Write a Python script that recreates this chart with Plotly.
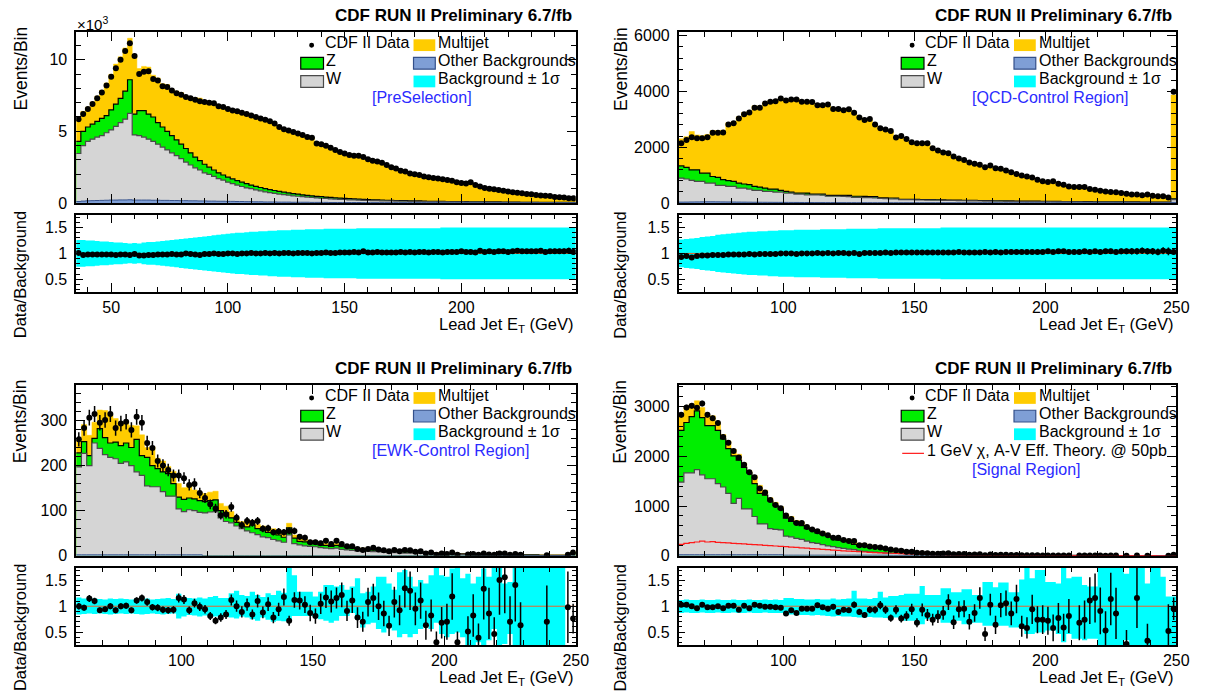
import numpy as np
import plotly.graph_objects as go

# ======================= DATA =======================
# Top-left  [PreSelection]   : 2 GeV bins, 35-249 GeV, events in units of 10^3
tl_data = [5.85, 6.20, 6.55, 6.90, 7.30, 7.70, 8.20, 8.80, 9.40, 10.00, 10.60, 11.15, 10.25,
           9.00, 9.15, 9.20, 8.65, 8.55, 8.15, 8.10, 7.85, 7.65, 7.55, 7.40, 7.30, 7.20, 7.10, 7.05,
           7.00, 6.95, 6.75, 6.70, 6.55, 6.45, 6.40, 6.30, 6.20, 6.10, 6.00, 5.90, 5.80, 5.70, 5.55,
           5.30, 5.15, 5.05, 4.95, 4.85, 4.75, 4.60, 4.55, 4.15, 4.10, 4.00, 3.85, 3.70, 3.55, 3.45,
           3.35, 3.30, 3.30, 3.20, 3.05, 2.95, 2.90, 2.80, 2.65, 2.50, 2.40, 2.25, 2.20, 2.05, 2.00,
           1.95, 1.85, 1.80, 1.75, 1.70, 1.65, 1.60, 1.55, 1.45, 1.40, 1.35, 1.45, 1.25, 1.15, 1.05,
           1.00, 0.95, 0.90, 0.85, 0.80, 0.75, 0.72, 0.68, 0.62, 0.60, 0.55, 0.52, 0.50, 0.48, 0.42, 0.40, 0.38, 0.33, 0.32]
tl_ratio = [1.01, 0.97, 0.98, 0.98, 0.98, 0.98, 0.98, 0.98, 0.97, 0.98, 0.98, 0.97, 0.99,
            0.96, 0.96, 0.97, 0.97, 0.98, 0.98, 0.98, 0.99, 0.98, 0.98, 1.00, 0.99, 0.98, 0.97, 0.99,
            0.99, 1.00, 0.99, 0.99, 1.00, 1.00, 0.99, 1.00, 1.00, 1.01, 1.00, 1.00, 1.01, 1.00, 1.01,
            1.00, 1.01, 1.01, 1.00, 1.01, 1.01, 1.01, 1.00, 1.01, 1.01, 1.02, 1.01, 1.01, 1.02, 1.02,
            1.02, 1.03, 1.02, 1.04, 1.02, 1.02, 1.03, 1.02, 1.02, 1.02, 1.02, 1.03, 1.02, 1.03, 1.02,
            1.03, 1.03, 1.02, 1.03, 1.03, 1.02, 1.03, 1.03, 1.03, 1.04, 1.03, 1.03, 1.02, 1.05, 1.03,
            1.04, 1.03, 1.04, 1.04, 1.03, 1.04, 1.05, 1.04, 1.04, 1.04, 1.04, 1.05, 1.03, 1.04, 1.04, 1.04, 1.04, 1.05, 1.03]
tl_w_z = [4.30, 5.00, 5.30, 5.50, 5.70, 5.90, 6.10, 6.50, 6.90, 7.30, 7.80, 8.60, 6.20,
          6.45, 6.45, 6.20, 6.00, 5.60, 5.30, 5.00, 4.70, 4.40, 4.10, 3.80, 3.50, 3.20, 2.95, 2.70,
          2.50, 2.30, 2.10, 1.95, 1.80, 1.68, 1.56, 1.45, 1.35, 1.25, 1.16, 1.08, 1.00, 0.93, 0.87,
          0.81, 0.75, 0.70, 0.65, 0.61, 0.57, 0.53, 0.50, 0.46, 0.44, 0.41, 0.39, 0.36, 0.34, 0.32,
          0.30, 0.28, 0.27, 0.25, 0.24, 0.22, 0.21, 0.20, 0.19, 0.18, 0.17, 0.16, 0.16, 0.15, 0.14,
          0.14, 0.13, 0.12, 0.12, 0.11, 0.11, 0.10, 0.10, 0.09, 0.09, 0.09, 0.08, 0.08, 0.08, 0.07,
          0.07, 0.07, 0.07, 0.06, 0.06, 0.06, 0.06, 0.05, 0.05, 0.05, 0.05, 0.05, 0.05, 0.04, 0.04, 0.04, 0.04, 0.04, 0.04]
tl_w = [3.45, 4.00, 4.30, 4.45, 4.60, 4.70, 4.90, 5.10, 5.35, 5.60, 5.85, 6.25, 4.75,
        4.70, 4.60, 4.45, 4.30, 4.10, 3.90, 3.70, 3.50, 3.30, 3.10, 2.85, 2.65, 2.45, 2.30, 2.10,
        2.00, 1.85, 1.70, 1.60, 1.45, 1.35, 1.25, 1.15, 1.05, 1.00, 0.92, 0.85, 0.78, 0.72, 0.67,
        0.62, 0.58, 0.54, 0.50, 0.47, 0.44, 0.41, 0.38, 0.35, 0.33, 0.31, 0.29, 0.27, 0.25, 0.24,
        0.22, 0.21, 0.20, 0.18, 0.17, 0.16, 0.16, 0.15, 0.14, 0.14, 0.13, 0.12, 0.12, 0.11, 0.11,
        0.10, 0.10, 0.09, 0.09, 0.08, 0.08, 0.08, 0.07, 0.07, 0.07, 0.06, 0.06, 0.06, 0.06, 0.05,
        0.05, 0.05, 0.05, 0.05, 0.05, 0.04, 0.04, 0.04, 0.04, 0.04, 0.04, 0.03, 0.03, 0.03, 0.03, 0.03, 0.03, 0.03, 0.03]
tl_other = [0.10, 0.13, 0.15, 0.16, 0.17, 0.18, 0.19, 0.20, 0.20, 0.21, 0.21, 0.22, 0.20,
            0.20, 0.20, 0.20, 0.19, 0.19, 0.18, 0.18, 0.17, 0.17, 0.16, 0.16, 0.15, 0.15, 0.14, 0.14,
            0.13, 0.13, 0.12, 0.12, 0.11, 0.11, 0.10, 0.10, 0.09, 0.09, 0.08, 0.08, 0.07, 0.07, 0.07,
            0.06, 0.06, 0.06, 0.05, 0.05, 0.05, 0.05, 0.04, 0.04, 0.04, 0.04, 0.03, 0.03, 0.03, 0.03,
            0.03, 0.03, 0.03, 0.02, 0.02, 0.02, 0.02, 0.02, 0.02, 0.02, 0.02, 0.02, 0.02, 0.02, 0.02,
            0.02, 0.02, 0.02, 0.02, 0.02, 0.01, 0.01, 0.01, 0.01, 0.01, 0.01, 0.01, 0.01, 0.01, 0.01,
            0.01, 0.01, 0.01, 0.01, 0.01, 0.01, 0.01, 0.01, 0.01, 0.01, 0.01, 0.01, 0.01, 0.01, 0.01, 0.01, 0.01, 0.01, 0.01]
tl_sigma = [0.26, 0.26, 0.25, 0.25, 0.24, 0.23, 0.23, 0.22, 0.21, 0.21, 0.20, 0.19, 0.20,
            0.19, 0.21, 0.22, 0.22, 0.23, 0.24, 0.25, 0.26, 0.27, 0.28, 0.29, 0.30, 0.31, 0.32, 0.33,
            0.34, 0.35, 0.36, 0.37, 0.38, 0.39, 0.40, 0.40, 0.41, 0.42, 0.42, 0.43, 0.43, 0.44, 0.44,
            0.45, 0.45, 0.45, 0.46, 0.46, 0.46, 0.47, 0.47, 0.47, 0.47, 0.48, 0.48, 0.48, 0.48, 0.48,
            0.48, 0.48, 0.49, 0.49, 0.49, 0.49, 0.49, 0.49, 0.49, 0.49, 0.49, 0.49, 0.49, 0.49, 0.49,
            0.49, 0.49, 0.49, 0.49, 0.49, 0.50, 0.50, 0.50, 0.50, 0.50, 0.50, 0.50, 0.50, 0.50, 0.50,
            0.50, 0.50, 0.50, 0.50, 0.50, 0.50, 0.50, 0.50, 0.50, 0.50, 0.50, 0.50, 0.50, 0.50, 0.50, 0.50, 0.50, 0.50, 0.50]

# Top-right [QCD-Control Region] : 2 GeV bins, 60-250 GeV
tr_data = [2140, 2260, 2360, 2320, 2320, 2360, 2520, 2520, 2530, 2820, 2860, 3030, 3180, 3250, 3415, 3420, 3570, 3630, 3650, 3750,
           3680, 3710, 3710, 3630, 3630, 3620, 3510, 3510, 3530, 3370, 3370, 3330, 3360, 3240, 3070, 2975, 3010, 2820, 2680, 2640,
           2580, 2345, 2400, 2300, 2180, 2140, 2140, 2140, 1960, 1880, 1810, 1785, 1665, 1600, 1545, 1450, 1405, 1370, 1285, 1345,
           1250, 1225, 1165, 1105, 1035, 990, 950, 915, 835, 775, 750, 775, 690, 655, 595, 570, 570, 570, 500, 475,
           440, 415, 390, 380, 355, 335, 300, 300, 275, 300, 260, 240, 240, 200, 3990]
tr_ratio = [0.93, 0.95, 0.92, 0.95, 0.96, 0.96, 0.97, 0.97, 0.97, 0.98, 0.98, 0.98, 0.98, 0.99, 0.98, 0.99, 0.99, 0.99, 0.99, 1.00,
            1.00, 1.00, 0.99, 1.00, 1.00, 1.00, 1.01, 1.00, 1.01, 1.00, 1.01, 1.01, 1.00, 1.01, 0.99, 1.01, 1.01, 1.01, 1.01, 1.02,
            1.01, 1.02, 1.02, 1.02, 1.02, 1.02, 1.02, 1.02, 1.02, 1.02, 1.02, 1.02, 1.02, 1.03, 1.02, 1.02, 1.02, 1.02, 1.03, 1.02,
            1.03, 1.02, 1.03, 1.03, 1.03, 1.03, 1.03, 1.03, 1.03, 1.03, 1.04, 1.03, 1.04, 1.04, 1.03, 1.03, 1.03, 1.04, 1.03, 1.04,
            1.03, 1.04, 1.04, 1.03, 1.04, 1.04, 1.04, 1.04, 1.05, 1.04, 1.04, 1.03, 1.05, 1.04, 1.03]
tr_w_z = [1330, 1275, 1190, 1190, 1070, 1070, 950, 915, 835, 800, 775, 715, 680, 655, 595, 570, 535, 500, 500, 450,
          415, 390, 355, 355, 355, 320, 320, 320, 275, 275, 275, 275, 270, 240, 240, 235, 230, 225, 180, 180,
          178, 175, 130, 130, 128, 126, 125, 122, 120, 115, 110, 107, 104, 101, 97, 94, 91, 88, 85, 83,
          80, 78, 76, 74, 71, 69, 67, 65, 63, 61, 59, 57, 55, 53, 51, 49, 48, 46, 45, 44,
          43, 42, 41, 40, 39, 38, 37, 36, 35, 34, 33, 32, 31, 30, 150]
tr_w = [890, 860, 810, 775, 775, 715, 715, 630, 630, 595, 595, 535, 535, 500, 450, 450, 415, 415, 390, 390,
        355, 355, 320, 320, 290, 290, 290, 280, 240, 240, 240, 235, 230, 200, 200, 195, 190, 180, 160, 155,
        150, 145, 120, 118, 115, 110, 107, 105, 100, 98, 95, 90, 88, 85, 80, 78, 75, 70, 68, 66,
        64, 62, 60, 58, 55, 53, 51, 49, 48, 46, 45, 43, 42, 40, 39, 37, 36, 35, 34, 33,
        32, 31, 30, 29, 28, 27, 26, 25, 24, 23, 22, 21, 20, 19, 120]
tr_other = [30, 32, 35, 38, 40, 42, 42, 40, 38, 36, 34, 32, 30, 28, 26, 25, 24, 23, 22, 21,
            20, 19, 18, 17, 16, 15, 14, 14, 13, 13, 12, 12, 11, 11, 10, 10, 10, 9, 9, 9,
            8, 8, 8, 8, 8, 8, 8, 8, 8, 8, 7, 7, 7, 7, 7, 7, 7, 7, 7, 7,
            6, 6, 6, 6, 6, 6, 6, 6, 6, 6, 5, 5, 5, 5, 5, 5, 5, 5, 5, 5,
            4, 4, 4, 4, 4, 4, 4, 4, 4, 4, 4, 4, 4, 4, 20]
tr_sigma = [0.27, 0.28, 0.29, 0.30, 0.32, 0.33, 0.34, 0.36, 0.37, 0.38, 0.39, 0.40, 0.41, 0.42, 0.42, 0.43, 0.43, 0.44, 0.44, 0.45,
            0.45, 0.45, 0.46, 0.46, 0.46, 0.46, 0.46, 0.47, 0.47, 0.47, 0.47, 0.47, 0.48, 0.48, 0.48, 0.48, 0.48, 0.48, 0.49, 0.49,
            0.49, 0.49, 0.49, 0.49, 0.49, 0.49, 0.49, 0.49, 0.49, 0.49, 0.50, 0.50, 0.50, 0.50, 0.50, 0.50, 0.50, 0.50, 0.50, 0.50,
            0.50, 0.50, 0.50, 0.50, 0.50, 0.50, 0.50, 0.50, 0.50, 0.50, 0.50, 0.50, 0.50, 0.50, 0.50, 0.50, 0.50, 0.50, 0.50, 0.50,
            0.50, 0.50, 0.50, 0.50, 0.50, 0.50, 0.50, 0.50, 0.50, 0.50, 0.50, 0.50, 0.50, 0.50, 0.50]

# Bottom-left [EWK-Control Region] : 2 GeV bins, 60-250 GeV
bl_data = [258, 283, 306, 314, 295, 301, 314, 283, 293, 297, 279, 308, 295, 250, 239, 210, 200, 190, 178, 178,
           172, 157, 159, 139, 128, 114, 105, 90, 92, 108, 84, 68, 77, 73, 77, 60, 61, 52, 54, 52,
           55, 55, 42, 40, 30, 30, 28, 33, 26, 33, 26, 21, 21, 15, 13, 15, 18, 14, 12, 10,
           13, 10, 13, 12, 9, 10, 5, 7, 2, 5, 4, 7, 2, 0, 3, 4, 2, 5, 3, 2,
           5, 5, 2, 4, 2, 0, 0, 0, 0, 1, 0, 0, 0, 2, 7]
bl_total = [254, 291, 267, 296, 323, 322, 313, 304, 292, 297, 289, 288, 268, 240, 242, 216, 210, 198, 187, 160,
            151, 158, 146, 140, 138, 141, 143, 116, 110, 98, 84, 76, 74, 78, 70, 66, 60, 60, 54, 48,
            72, 46, 38, 37, 33, 32, 28, 27, 25, 27, 23, 22, 20, 17, 17, 15, 15, 14, 13, 12,
            12, 11, 10, 9, 9, 9, 8, 8, 7, 7, 6, 6, 6, 5, 5, 5, 4, 4, 4, 3,
            3, 3, 3, 3, 3, 2, 2, 2, 2, 2, 2, 2, 2, 2, 9]
bl_w_z = [228, 253, 222, 260, 282, 262, 250, 252, 244, 250, 240, 258, 222, 218, 200, 193, 186, 182, 160, 130,
          125, 128, 126, 122, 120, 122, 124, 100, 95, 84, 74, 66, 64, 68, 60, 57, 52, 51, 46, 41,
          62, 39, 32, 31, 28, 27, 24, 23, 21, 23, 20, 19, 17, 15, 15, 13, 13, 12, 11, 10,
          10, 9, 9, 8, 8, 8, 7, 7, 6, 6, 5, 5, 5, 4, 4, 4, 3, 3, 3, 3,
          2, 2, 2, 2, 2, 2, 2, 2, 1, 1, 1, 1, 1, 1, 7]
bl_w = [197, 227, 200, 250, 238, 224, 218, 215, 205, 208, 200, 186, 178, 155, 153, 153, 142, 132, 132, 104,
        98, 102, 100, 96, 95, 97, 98, 84, 76, 73, 66, 60, 55, 51, 47, 42, 40, 36, 33, 30,
        46, 27, 24, 22, 21, 20, 18, 17, 16, 17, 14, 13, 12, 11, 10, 10, 9, 9, 8, 7,
        7, 7, 6, 6, 6, 5, 5, 5, 4, 4, 4, 4, 3, 3, 3, 3, 2, 2, 2, 2,
        2, 2, 1, 1, 1, 1, 1, 1, 1, 1, 1, 1, 1, 1, 4]
bl_other = [2, 2, 2, 2, 2, 2, 2, 2, 2, 2, 2, 2, 2, 2, 2, 2, 2, 2, 2, 2,
            2, 2, 2, 2, 0, 0, 0, 0, 0, 0, 0, 0, 0, 0, 0, 0, 0, 0, 0, 0,
            0, 0, 0, 0, 0, 0, 0, 0, 0, 0, 0, 0, 0, 0, 0, 0, 0, 0, 0, 0,
            0, 0, 0, 0, 0, 0, 0, 0, 0, 0, 0, 0, 0, 0, 0, 0, 0, 0, 0, 0,
            0, 0, 0, 0, 0, 0, 0, 0, 0, 0, 0, 0, 0, 0, 0]
bl_ratio = [1.00, 0.97, 1.15, 1.10, 0.92, 0.94, 1.00, 0.92, 1.00, 1.01, 0.92, 1.11, 1.16, 1.08, 0.98, 0.97, 0.93, 0.92, 0.93, 1.16,
            1.13, 0.92, 1.06, 0.99, 0.94, 0.81, 0.72, 0.78, 0.84, 1.12, 1.00, 0.89, 1.03, 0.84, 1.10, 0.88, 1.04, 0.78, 0.94, 1.18,
            0.72, 1.12, 1.11, 1.03, 0.87, 0.81, 1.05, 1.17, 1.09, 1.16, 1.22, 0.91, 1.11, 0.78, 0.70, 1.08, 1.16, 1.00, 0.86, 0.62,
            1.08, 0.92, 1.35, 1.30, 0.95, 1.11, 0.63, 0.82, 0.30, 0.68, 0.70, 1.19, 0.30, 0.00, 0.51, 0.82, 0.39, 1.34, 0.86, 0.46,
            1.51, 1.56, 0.70, 1.41, 0.63, 0.00, 0.00, 0.00, 0.00, 0.70, 0.00, 0.00, 0.00, 0.98, 0.76]
bl_band_hi = [1.17, 1.15, 1.14, 1.15, 1.14, 1.13, 1.15, 1.14, 1.15, 1.14, 1.13, 1.15, 1.14, 1.15, 1.13, 1.14, 1.15, 1.16, 1.14,
              1.24, 1.18, 1.16, 1.15, 1.17, 1.15, 1.18, 1.20, 1.16, 1.16, 1.25, 1.30, 1.22, 1.20, 1.28, 1.22, 1.18, 1.25, 1.22, 1.30, 1.26,
              1.80,
              1.60, 1.28, 1.28, 1.28, 1.19, 1.28, 1.41, 1.41, 1.38, 1.41,
              1.32, 1.38, 1.54, 1.25, 1.28, 1.38, 1.57, 1.57, 1.44, 1.32,
              1.66, 1.70, 1.57, 1.38, 1.51, 1.44, 1.60, 1.76, 1.60, 1.57,
              1.73, 1.76, 1.54, 1.63, 1.44, 1.57, 1.73, 1.57, 1.80, 1.80,
              1.44, 1.47, 1.80, 1.80, 1.80, 1.80, 1.80, 1.80, 1.80, 1.80,
              1.80, 1.80, 1.00, 1.00]
bl_band_lo = [0.84, 0.85, 0.86, 0.85, 0.86, 0.85, 0.84, 0.85, 0.86, 0.85, 0.86, 0.85, 0.84, 0.85, 0.86, 0.85, 0.84, 0.85, 0.86,
              0.76, 0.80, 0.83, 0.82, 0.80, 0.82, 0.78, 0.80, 0.81, 0.79, 0.78, 0.76, 0.80, 0.78, 0.75, 0.72, 0.78, 0.74, 0.70, 0.72, 0.71,
              0.71,
              0.81, 0.81, 0.81, 0.81, 0.78, 0.75, 0.72, 0.68, 0.72, 0.81,
              0.81, 0.87, 0.75, 0.59, 0.65, 0.68, 0.56, 0.49, 0.59, 0.53,
              0.40, 0.46, 0.40, 0.46, 0.56, 0.65, 0.56, 0.68, 0.46, 0.40,
              0.46, 0.49, 0.40, 0.20, 0.20, 0.30, 0.20, 0.34, 0.56, 0.20,
              0.27, 0.46, 0.20, 0.20, 0.20, 0.20, 0.20, 0.20, 0.20, 0.20,
              0.20, 0.20, 1.00, 1.00]

# Bottom-right [Signal Region] : 2 GeV bins, 60-250 GeV
br_data = [2834, 2984, 3018, 2978, 3063, 2834, 2767, 2668, 2391, 2273, 2109, 1976, 1832, 1680, 1581, 1352, 1273, 1120, 1022, 956,
           810, 739, 660, 660, 581, 528, 494, 449, 415, 364, 364, 316, 296, 296, 211, 211, 186, 178, 166, 146,
           126, 113, 99, 79, 79, 62, 58,
           51, 42, 42, 43, 49, 28, 36, 33, 22, 26, 31, 12, 24, 13, 19, 19, 14, 17, 9, 8,
           11, 8, 7, 7, 5, 7, 5, 6, 0, 4, 4, 6, 6, 4, 2, 5, 3, 0, 1, 0, 4, 0, 1, 0, 0, 0, 1, 19]
br_total = [2866, 3012, 3051, 3117, 2984, 2814, 2814, 2682, 2439, 2306, 2142, 2043, 1866, 1713, 1615, 1417, 1318, 1166, 1075, 988,
            844, 791, 711, 680, 593, 547, 514, 480, 429, 383, 364, 330, 330, 296, 245, 240, 217, 192, 185, 152,
            145, 126, 115, 99, 90, 79, 72,
            62, 57, 53, 49, 45, 41, 38, 35, 32, 30, 27, 25, 23, 21, 19, 18, 16, 15, 14, 13,
            12, 11, 10, 9.5, 9, 8.5, 8, 7.5, 7, 6.5, 6, 5.6, 5.2, 4.9, 4.6, 4.3, 4, 3.8, 3.6, 3.4,
            3.2, 3, 2.8, 2.6, 2.5, 2.4, 2.3, 20]
br_w_z = [2523, 2681, 2800, 2913, 2780, 2617, 2617, 2523, 2352, 2154, 2010, 1925, 1779, 1668, 1450, 1253, 1219, 1101, 1008, 937,
          759, 692, 646, 607, 547, 514, 462, 429, 395, 364, 316, 296, 296, 231, 198, 198, 178, 166, 160, 132,
          125, 107, 100, 87, 82, 67, 62,
          55, 50, 47, 43, 40, 36, 33, 31, 28, 26, 24, 22, 20, 18, 17, 16, 14, 13, 12, 11,
          10.5, 9.7, 8.8, 8.4, 7.9, 7.5, 7, 6.6, 6.2, 5.7, 5.3, 4.9, 4.6, 4.3, 4, 3.8, 3.5, 3.3, 3.2, 3,
          2.8, 2.6, 2.5, 2.3, 2.2, 2.1, 2, 17]
br_w = [1482, 1668, 1668, 1733, 1628, 1549, 1549, 1450, 1383, 1253, 1055, 1154, 943, 943, 790, 640, 640, 547, 530, 520,
        395, 380, 350, 330, 296, 264, 250, 225, 198, 185, 165, 150, 132, 125, 99, 90, 79, 72, 66, 60,
        55, 50, 46, 42, 38, 35, 32,
        29, 27, 25, 23, 21, 19, 18, 16, 15, 14, 13, 12, 11, 10, 9, 8.5, 7.7, 7.2, 6.7, 6.2,
        5.8, 5.3, 4.8, 4.6, 4.3, 4.1, 3.8, 3.6, 3.4, 3.1, 2.9, 2.7, 2.5, 2.4, 2.2, 2.1, 1.9, 1.8, 1.7, 1.6,
        1.5, 1.4, 1.3, 1.2, 1.2, 1.1, 1.1, 9]
br_other = [20, 20, 20, 20, 20, 20, 20, 20, 20, 20, 20, 20, 20, 20, 20, 20, 20, 20, 20, 20,
            12, 12, 12, 12, 12, 12, 12, 12, 12, 12, 12, 12, 12, 12, 12, 12, 12, 12, 12, 12,
            8, 8, 8, 8, 8, 8, 8, 6, 6, 6, 6, 6, 5, 5, 5, 5, 5, 4, 4, 4,
            4, 4, 3, 3, 3, 3, 3, 3, 3, 2, 2, 2, 2, 2, 2, 2, 2, 2, 2, 2,
            1, 1, 1, 1, 1, 1, 1, 1, 1, 1, 1, 1, 1, 1, 2]
br_signal = [231, 251, 264, 277, 296, 277, 284, 270, 264, 258, 251, 245, 238, 231, 224, 217, 210, 203, 196, 189,
             182, 175, 168, 160, 152, 145, 138, 130, 122, 115, 108, 100, 94, 88, 82, 76, 70, 65, 60, 55,
             50, 46, 42, 38, 35, 32, 29,
             26, 24, 22, 20, 18, 16, 14, 13, 12, 11, 10, 9, 8, 7.5, 7, 6.5, 6, 5.5, 5, 4.6,
             4.2, 3.9, 3.6, 3.3, 3, 2.8, 2.6, 2.4, 2.2, 2, 1.9, 1.8, 1.6, 1.5, 1.4, 1.3, 1.2, 1.1, 1, 1,
             0.9, 0.9, 0.8, 0.8, 0.7, 0.7, 0.6, 3]
br_ratio = [1.03, 1.03, 1.00, 0.96, 1.03, 0.98, 0.98, 1.00, 0.96, 1.01, 1.01, 0.93, 1.01, 0.96, 1.03, 1.01, 0.99, 0.99, 0.98, 0.97,
            0.86, 0.92, 0.87, 0.95, 0.95, 0.95, 1.02, 0.98, 0.95, 0.99, 0.89, 0.93, 0.92, 1.03, 0.89, 0.83, 0.93, 0.93, 1.02, 0.93,
            0.77, 0.93, 0.76, 0.81, 0.94, 0.68, 0.93, 0.83, 0.74, 0.80, 0.87, 1.08, 0.69, 0.94, 0.95, 0.70, 0.87, 1.16, 0.46, 1.03,
            0.64, 1.02, 1.06, 0.86, 1.14, 0.61, 0.58, 0.94, 0.74, 0.74, 0.72, 0.58, 0.77, 0.59, 0.81, 0.00, 0.68, 0.74, 1.11, 1.16,
            0.91, 0.53, 1.14, 0.86, 0.00, 0.27, 0.00, 1.16, 0.00, 0.33, 0.00, 0.00, 0.00, 0.52, 0.95]
br_band_hi = [1.12, 1.13, 1.12, 1.12, 1.13, 1.12, 1.12, 1.13, 1.12, 1.12, 1.13, 1.12, 1.12, 1.13, 1.12, 1.12, 1.13, 1.12, 1.13, 1.12,
              1.16, 1.16, 1.14, 1.14, 1.13, 1.13, 1.14, 1.13, 1.13, 1.15, 1.13, 1.14, 1.15, 1.30, 1.15, 1.15, 1.14, 1.16, 1.28, 1.17,
              1.20, 1.20, 1.22, 1.24, 1.24, 1.24, 1.39, 1.22, 1.22, 1.22,
              1.35, 1.35, 1.27, 1.27, 1.33, 1.33, 1.22, 1.22, 1.47, 1.47,
              1.37, 1.46, 1.46, 1.27, 1.27, 1.52, 1.80, 1.54, 1.70, 1.70,
              1.47, 1.47, 1.44, 1.80, 1.54, 1.57, 1.57, 1.41, 1.38, 1.38,
              1.80, 1.80, 1.80, 1.80, 1.80, 1.63, 1.80, 1.80, 1.80, 1.44,
              1.80, 1.80, 1.57, 1.19, 1.19]
br_band_lo = [0.87, 0.88, 0.87, 0.87, 0.88, 0.87, 0.87, 0.88, 0.87, 0.87, 0.88, 0.87, 0.87, 0.88, 0.87, 0.87, 0.88, 0.87, 0.87, 0.87,
              0.83, 0.84, 0.84, 0.83, 0.83, 0.82, 0.83, 0.82, 0.81, 0.80, 0.81, 0.80, 0.80, 0.79, 0.78, 0.78, 0.79, 0.78, 0.78, 0.77,
              0.78, 0.78, 0.75, 0.72, 0.72, 0.72, 0.65, 0.75, 0.75, 0.75,
              0.68, 0.68, 0.72, 0.72, 0.65, 0.65, 0.68, 0.68, 0.62, 0.62,
              0.65, 0.62, 0.62, 0.59, 0.59, 0.56, 0.46, 0.46, 0.49, 0.49,
              0.53, 0.53, 0.46, 0.30, 0.46, 0.37, 0.37, 0.34, 0.37, 0.37,
              0.20, 0.20, 0.20, 0.20, 0.20, 0.34, 0.20, 0.20, 0.20, 0.20,
              0.20, 0.20, 0.20, 0.20, 0.20]

# ======================= STYLE / LAYOUT =======================
W, H = 1212, 700
FONT = "Liberation Sans, Arial, Helvetica, sans-serif"
YELLOW = "#ffcc00"
GREEN = "#00ee00"
GREY = "#d5d5d5"
BLUE = "#7f9fd6"
CYAN = "#00ffff"
LBLUE = "#2b2bff"
ONE_LINE = "#e8642c"
TEXT_DY = -3  # annotation baseline correction (px)


def fx(x):
    return x / W


def fy(y):
    return 1 - y / H


def arr(a):
    return np.asarray(a, dtype=float)


tl_d = arr(tl_data)
tr_d = arr(tr_data)
panels = [
    dict(first=35, xlim=(35, 249), cx=(77, 582), cl=0, mt=28, mb=202, rt=214, rb=293,
         ymax=11.9, ydt=5, ymn=1, counts=1000.0,
         data=tl_d, total=tl_d / arr(tl_ratio), wz=arr(tl_w_z), w=arr(tl_w), other=arr(tl_other),
         ratio=arr(tl_ratio), lo=1 - arr(tl_sigma), hi=1 + arr(tl_sigma), signal=None,
         tag="[PreSelection]", x10=True),
    dict(first=60, xlim=(60, 250), cx=(686, 1189), cl=606, mt=28, mb=202, rt=214, rb=293,
         ymax=6120, ydt=2000, ymn=400, counts=1.0,
         data=tr_d, total=tr_d / arr(tr_ratio), wz=arr(tr_w_z), w=arr(tr_w), other=arr(tr_other),
         ratio=arr(tr_ratio), lo=1 - arr(tr_sigma), hi=1 + arr(tr_sigma), signal=None,
         tag="[QCD-Control Region]", x10=False),
    dict(first=60, xlim=(60, 250), cx=(77, 582), cl=0, mt=388, mb=562, rt=574, rb=653,
         ymax=378, ydt=100, ymn=20, counts=1.0,
         data=arr(bl_data), total=arr(bl_total), wz=arr(bl_w_z), w=arr(bl_w), other=arr(bl_other),
         ratio=arr(bl_ratio), lo=arr(bl_band_lo), hi=arr(bl_band_hi), signal=None,
         tag="[EWK-Control Region]", x10=False),
    dict(first=60, xlim=(60, 250), cx=(686, 1189), cl=606, mt=388, mb=562, rt=574, rb=653,
         ymax=3430, ydt=1000, ymn=200, counts=1.0,
         data=arr(br_data), total=arr(br_total), wz=arr(br_w_z), w=arr(br_w), other=arr(br_other),
         ratio=arr(br_ratio), lo=arr(br_band_lo), hi=arr(br_band_hi), signal=arr(br_signal),
         tag="[Signal Region]", x10=False),
]

fig = go.Figure()
axes = {}
annotations = []
shapes = []


def nm(n):
    return "" if n == 1 else str(n)


def common_axis(**kw):
    d = dict(showline=True, linecolor="black", linewidth=1.5, mirror="allticks",
             ticks="inside", ticklen=9, tickwidth=1, tickcolor="black",
             showgrid=False, zeroline=False,
             tickfont=dict(family=FONT, size=16, color="black"))
    d.update(kw)
    return d


def text(x, y, s, size=16, anchor="left", color="black", angle=0):
    annotations.append(dict(xref="paper", yref="paper", x=fx(x), y=fy(y + (TEXT_DY if angle == 0 else 0)),
                            text=s, showarrow=False,
                            xanchor=anchor, yanchor="middle", textangle=angle,
                            font=dict(family=FONT, size=size, color=color)))


def rect(x0, y0, x1, y1, fill, line=None, lw=1.2):
    shapes.append(dict(type="rect", xref="paper", yref="paper", x0=fx(x0), x1=fx(x1),
                       y0=fy(y1), y1=fy(y0), fillcolor=fill, layer="above",
                       line=dict(color=line if line else fill, width=lw if line else 0)))


def step(first, vals):
    n = len(vals)
    xs = [first + 2 * i for i in range(n + 1)]
    ys = list(vals) + [vals[-1]]
    return xs, ys


for k, p in enumerate(panels):
    nmain, nrat = 2 * k + 1, 2 * k + 2
    xm, ym = "x" + nm(nmain), "y" + nm(nmain)
    xr_, yr_ = "x" + nm(nrat), "y" + nm(nrat)
    n = len(p["data"])
    centers = np.array([p["first"] + 1 + 2 * i for i in range(n)], dtype=float)
    xl, xrr = p["cx"]

    # ---- stacked histograms (drawn as overlaid cumulative step areas)
    layers = [(p["total"], YELLOW, YELLOW, 0.5),
              (p["wz"], GREEN, "black", 1.2),
              (p["w"], GREY, "#4a4a4a", 1.2),
              (p["other"], BLUE, "#34508a", 1.0)]
    for vals, fc, lc, lw in layers:
        sx, sy = step(p["first"], vals)
        fig.add_trace(go.Scatter(x=sx, y=sy, mode="lines", line=dict(shape="hv", color=lc, width=lw),
                                 fill="tozeroy", fillcolor=fc, xaxis=xm, yaxis=ym,
                                 hoverinfo="skip", showlegend=False))
    if p["signal"] is not None:
        sx, sy = step(p["first"], p["signal"])
        fig.add_trace(go.Scatter(x=sx, y=sy, mode="lines", line=dict(shape="hv", color="#ff1a1a", width=1.2),
                                 xaxis=xm, yaxis=ym, hoverinfo="skip", showlegend=False))

    # ---- data points
    d = p["data"]
    N = d * p["counts"]
    derr = np.sqrt(np.clip(N, 0, None)) / p["counts"]
    mask = d > 0
    fig.add_trace(go.Scatter(x=centers[mask], y=d[mask], mode="markers",
                             marker=dict(color="black", size=6),
                             error_y=dict(type="data", array=derr[mask], color="black", thickness=1.5, width=0),
                             xaxis=xm, yaxis=ym, hoverinfo="skip", showlegend=False))

    # ---- ratio panel: uncertainty band as a filled step band
    sx, s_lo = step(p["first"], p["lo"])
    _, s_hi = step(p["first"], p["hi"])
    fig.add_trace(go.Scatter(x=sx, y=s_lo, mode="lines", line=dict(shape="hv", color=CYAN, width=0),
                             xaxis=xr_, yaxis=yr_, hoverinfo="skip", showlegend=False))
    fig.add_trace(go.Scatter(x=sx, y=s_hi, mode="lines", line=dict(shape="hv", color=CYAN, width=0),
                             fill="tonexty", fillcolor=CYAN,
                             xaxis=xr_, yaxis=yr_, hoverinfo="skip", showlegend=False))
    fig.add_trace(go.Scatter(x=list(p["xlim"]), y=[1, 1], mode="lines", line=dict(color=ONE_LINE, width=1),
                             xaxis=xr_, yaxis=yr_, hoverinfo="skip", showlegend=False))
    r = p["ratio"]
    rm = (r > 0) & (N > 0)
    rerr = np.where(rm, r / np.sqrt(np.where(N > 0, N, 1)), 0)
    fig.add_trace(go.Scatter(x=centers[rm], y=r[rm], mode="markers",
                             marker=dict(color="black", size=6),
                             error_y=dict(type="data", array=rerr[rm], color="black", thickness=1.5, width=0),
                             xaxis=xr_, yaxis=yr_, hoverinfo="skip", showlegend=False))

    # ---- axes
    xmin = dict(dtick=10, tick0=0, ticklen=5, tickcolor="black", ticks="inside", tickwidth=1)
    axes["xaxis" + nm(nmain)] = common_axis(domain=[fx(xl), fx(xrr)], anchor=ym, range=list(p["xlim"]),
                                            dtick=50, tick0=0, showticklabels=False, minor=xmin)
    axes["yaxis" + nm(nmain)] = common_axis(domain=[fy(p["mb"]), fy(p["mt"])], anchor=xm,
                                            range=[0, p["ymax"]], dtick=p["ydt"], tick0=0, tickformat="d",
                                            ticklabelstandoff=4,
                                            minor=dict(dtick=p["ymn"], tick0=0, ticklen=5, tickcolor="black",
                                                       ticks="inside", tickwidth=1))
    axes["xaxis" + nm(nrat)] = common_axis(domain=[fx(xl), fx(xrr)], anchor=yr_, range=list(p["xlim"]),
                                           dtick=50, tick0=0, minor=xmin, ticklabelstandoff=0)
    axes["yaxis" + nm(nrat)] = common_axis(domain=[fy(p["rb"]), fy(p["rt"])], anchor=xr_,
                                           range=[0.25, 1.75], dtick=0.5, tick0=0, ticklen=7,
                                           ticklabelstandoff=4,
                                           minor=dict(dtick=0.1, tick0=0, ticklen=4, tickcolor="black",
                                                      ticks="inside", tickwidth=1))

    # ---- texts
    text(xrr - 2, p["mt"] - 14, "<b>CDF RUN II Preliminary 6.7/fb</b>", size=17, anchor="right")
    text(p["cl"] + 21, p["mt"] + 37, "Events/Bin", size=17.5, anchor="center", angle=-90)
    text(p["cl"] + 21, p["rt"] + 61, "Data/Background", size=16.5, anchor="center", angle=-90)
    text(xrr, p["rb"] + 37, "Lead Jet E<sub>T</sub> (GeV)", size=16.5, anchor="right")
    if p["x10"]:
        text(xl - 1, p["mt"] - 6, "×10<sup>3</sup>", size=15, anchor="left")

    # ---- legend (hand-drawn, ROOT style)
    r1 = p["mt"] + 13
    r2, r3, r4 = r1 + 18.5, r1 + 37, r1 + 56.5
    shapes.append(dict(type="circle", xref="paper", yref="paper",
                       x0=fx(xrr - 269.5), x1=fx(xrr - 264.5), y0=fy(r1 + 2.5), y1=fy(r1 - 2.5),
                       fillcolor="black", line=dict(width=0), layer="above"))
    text(xrr - 256, r1, "CDF II Data")
    rect(xrr - 164, r1 - 6, xrr - 142, r1 + 6, YELLOW)
    text(xrr - 141, r1, "Multijet")
    rect(xrr - 278, r2 - 6, xrr - 255, r2 + 6, GREEN, "black")
    text(xrr - 254, r2, "Z")
    rect(xrr - 164, r2 - 6, xrr - 142, r2 + 6, BLUE, "#34508a")
    text(xrr - 141, r2, "Other Backgrounds")
    rect(xrr - 278, r3 - 6, xrr - 255, r3 + 6, GREY, "#4a4a4a")
    text(xrr - 254, r3, "W")
    rect(xrr - 164, r3 - 6, xrr - 142, r3 + 6, CYAN)
    text(xrr - 141, r3, "Background ± 1σ")
    if p["signal"] is not None:
        shapes.append(dict(type="line", xref="paper", yref="paper", x0=fx(xrr - 277), x1=fx(xrr - 255),
                           y0=fy(r4), y1=fy(r4), line=dict(color="#ff1a1a", width=1.2), layer="above"))
        text(xrr - 254, r4, "1 GeV χ, A-V Eff. Theory. @ 50pb")
        text(xrr - 208, r4 + 19.5, p["tag"], color=LBLUE)
    else:
        text(xrr - 208, r4, p["tag"], color=LBLUE)

fig.update_layout(width=W, height=H, margin=dict(l=0, r=0, t=0, b=0), autosize=False,
                  paper_bgcolor="white", plot_bgcolor="white", showlegend=False,
                  annotations=annotations, shapes=shapes, **axes)
fig.write_html("out.html")
